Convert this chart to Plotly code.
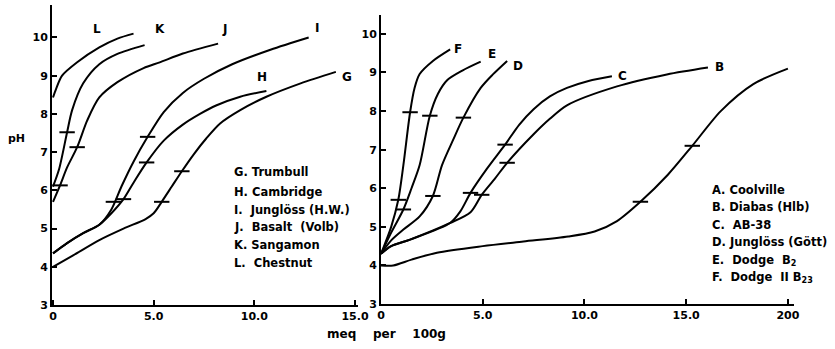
import plotly.graph_objects as go

# ---------- Left panel data (meq per 100g, pH) ----------
G_x = [0, 1.0, 2.3, 3.5, 4.6, 5.0, 5.4, 5.9, 6.4, 7.0, 7.6, 8.3, 9.3, 10.6, 12.3, 14.05]
G_y = [4.0, 4.3, 4.7, 5.0, 5.25, 5.4, 5.7, 6.1, 6.5, 6.95, 7.35, 7.75, 8.1, 8.45, 8.8, 9.1]
G_ticks_x = [5.4, 6.4]
G_ticks_y = [5.7, 6.5]

H_x = [0, 0.7, 1.5, 2.3, 2.9, 3.5, 4.0, 4.65, 5.5, 6.45, 7.3, 8.1, 9.3, 10.6]
H_y = [4.35, 4.62, 4.88, 5.1, 5.4, 5.77, 6.2, 6.73, 7.3, 7.72, 8.0, 8.22, 8.45, 8.6]
H_ticks_x = [3.5, 4.65]
H_ticks_y = [5.77, 6.73]

I_x = [0, 0.7, 1.5, 2.3, 2.9, 3.4, 4.0, 4.7, 5.5, 6.45, 7.5, 8.9, 10.8, 12.7]
I_y = [4.35, 4.62, 4.88, 5.1, 5.5, 6.1, 6.75, 7.4, 8.05, 8.55, 8.92, 9.3, 9.68, 10.0]
I_ticks_x = [3.0, 4.7]
I_ticks_y = [5.7, 7.4]

J_x = [0, 0.35, 0.7, 1.2, 1.7, 2.3, 3.2, 4.5, 5.3, 6.45, 8.2]
J_y = [5.7, 6.13, 6.6, 7.13, 7.83, 8.43, 8.83, 9.2, 9.35, 9.58, 9.84]
J_ticks_x = [0.35, 1.2]
J_ticks_y = [6.13, 7.13]

K_x = [0, 0.3, 0.7, 0.95, 1.5, 2.3, 3.2, 4.55]
K_y = [6.1, 6.55, 7.52, 8.1, 8.8, 9.3, 9.57, 9.8]
K_ticks_x = [0.7]
K_ticks_y = [7.52]

L_x = [0, 0.15, 0.45, 1.2, 2.3, 3.2, 4.0]
L_y = [8.43, 8.65, 9.0, 9.35, 9.74, 9.97, 10.1]

left_names = ["G", "H", "I", "J", "K", "L"]
left_label_x = [14.6, 10.4, 13.1, 8.5, 5.3, 2.2]
left_label_y = [8.96, 8.96, 10.26, 10.23, 10.23, 10.23]
left_legend = ["G. Trumbull", "H. Cambridge", "I.  Junglöss (H.W.)",
               "J.  Basalt  (Volb)", "K. Sangamon", "L.  Chestnut"]

# ---------- Right panel data ----------
A_x = [0, 0.6, 1.5, 2.75, 5.0, 7.0, 9.2, 10.5, 11.6, 12.75, 14.1, 15.3, 16.7, 18.3, 20.0]
A_y = [4.0, 4.0, 4.15, 4.33, 4.5, 4.62, 4.75, 4.88, 5.15, 5.65, 6.35, 7.1, 8.0, 8.7, 9.1]
A_ticks_x = [12.75, 15.3]
A_ticks_y = [5.65, 7.1]

B_x = [0, 0.5, 1.43, 3.4, 4.4, 4.95, 5.6, 6.2, 7.5, 8.3, 9.14, 11.6, 14.05, 16.07]
B_y = [4.3, 4.5, 4.67, 5.1, 5.38, 5.83, 6.25, 6.66, 7.4, 7.8, 8.15, 8.64, 8.95, 9.13]
B_ticks_x = [4.95, 6.2]
B_ticks_y = [5.83, 6.66]

C_x = [0, 0.5, 1.43, 3.4, 3.9, 4.4, 5.2, 6.1, 6.8, 7.5, 8.3, 9.14, 10.2, 11.35]
C_y = [4.3, 4.5, 4.67, 5.1, 5.4, 5.88, 6.5, 7.13, 7.65, 8.05, 8.38, 8.6, 8.78, 8.9]
C_ticks_x = [4.4, 6.1]
C_ticks_y = [5.88, 7.13]

D_x = [0, 0.5, 1.1, 1.9, 2.55, 3.0, 3.55, 4.05, 4.9, 5.5, 6.2]
D_y = [4.3, 4.65, 4.93, 5.27, 5.8, 6.6, 7.26, 7.83, 8.6, 8.95, 9.3]
D_ticks_x = [2.55, 4.05]
D_ticks_y = [5.8, 7.83]

E_x = [0, 0.5, 1.1, 1.5, 1.9, 2.4, 2.8, 3.25, 4.0, 4.9]
E_y = [4.3, 4.85, 5.45, 6.0, 6.6, 7.88, 8.45, 8.8, 9.05, 9.28]
E_ticks_x = [1.1, 2.4]
E_ticks_y = [5.45, 7.88]

F_x = [0, 0.5, 0.85, 1.1, 1.43, 1.65, 1.9, 2.55, 3.4]
F_y = [4.3, 5.0, 5.7, 6.6, 7.97, 8.6, 8.96, 9.3, 9.6]
F_ticks_x = [0.85, 1.43]
F_ticks_y = [5.7, 7.97]

right_names = ["A", "B", "C", "D", "E", "F"]
right_label_x = [20.5, 16.65, 11.85, 6.75, 5.45, 3.8]
right_label_y = [9.13, 9.13, 8.9, 9.16, 9.47, 9.6]
right_legend = ["A. Coolville", "B. Diabas (Hlb)", "C.  AB-38",
                "D. Junglöss (Gött)", "E.  Dodge  B<sub>2</sub>",
                "F.  Dodge  II B<sub>23</sub>"]

left_ticks_y = [3, 4, 5, 6, 7, 8, 9, 10]
left_ticks_x = [0, 5, 10, 15]
left_ticks_xtext = ["0", "5.0", "10.0", "15.0"]
right_ticks_x = [0, 5, 10, 15, 20]
right_ticks_xtext = ["0", "5.0", "10.0", "15.0", "200"]

FONT = "DejaVu Sans"
W, H = 835, 349

fig = go.Figure()

left_curves = [(G_x, G_y, G_ticks_x, G_ticks_y), (H_x, H_y, H_ticks_x, H_ticks_y),
               (I_x, I_y, I_ticks_x, I_ticks_y), (J_x, J_y, J_ticks_x, J_ticks_y),
               (K_x, K_y, K_ticks_x, K_ticks_y), (L_x, L_y, [], [])]
right_curves = [(A_x, A_y, A_ticks_x, A_ticks_y), (B_x, B_y, B_ticks_x, B_ticks_y),
                (C_x, C_y, C_ticks_x, C_ticks_y), (D_x, D_y, D_ticks_x, D_ticks_y),
                (E_x, E_y, E_ticks_x, E_ticks_y), (F_x, F_y, F_ticks_x, F_ticks_y)]

for curves, xa, ya in [(left_curves, "x", "y"), (right_curves, "x2", "y2")]:
    for cx, cy, tx, ty in curves:
        fig.add_trace(go.Scatter(x=cx, y=cy, mode="lines", xaxis=xa, yaxis=ya,
                                 line=dict(color="black", width=2, shape="spline", smoothing=0.8),
                                 showlegend=False, hoverinfo="skip", cliponaxis=False))
        if tx:
            fig.add_trace(go.Scatter(x=tx, y=ty, mode="markers", xaxis=xa, yaxis=ya,
                                     marker=dict(symbol="line-ew", size=11,
                                                 line=dict(color="black", width=2)),
                                     showlegend=False, hoverinfo="skip", cliponaxis=False))

tickfont = dict(family=FONT, size=11, color="black", weight="bold")
common_axis = dict(showline=True, linecolor="black", linewidth=2, showgrid=False,
                   zeroline=False, ticks="inside", ticklen=5, tickwidth=2,
                   tickcolor="black", tickfont=tickfont, fixedrange=True,
                   automargin=False)

fig.update_layout(
    width=W, height=H, autosize=False,
    margin=dict(l=0, r=0, t=0, b=0),
    paper_bgcolor="white", plot_bgcolor="white",
    xaxis=dict(domain=[52 / W, 358 / W], range=[-0.05, 15.15], anchor="y",
               tickmode="array", tickvals=left_ticks_x, ticktext=left_ticks_xtext, **common_axis),
    yaxis=dict(domain=[1 - 305 / H, 1 - 5 / H], range=[3, 10.85], anchor="x",
               tickmode="array", tickvals=left_ticks_y, **common_axis),
    xaxis2=dict(domain=[381 / W, 794 / W], range=[0, 20.3], anchor="y2",
                tickmode="array", tickvals=right_ticks_x, ticktext=right_ticks_xtext, **common_axis),
    yaxis2=dict(domain=[1 - 304 / H, 1 - 15 / H], range=[3, 10.49], anchor="x2",
                tickmode="array", tickvals=left_ticks_y, **common_axis),
)

ann = []
labfont = dict(family=FONT, size=12, color="black", weight="bold")
for name, lx, ly in zip(left_names, left_label_x, left_label_y):
    ann.append(dict(x=lx, y=ly, xref="x", yref="y", text=name, showarrow=False, font=labfont))
for name, lx, ly in zip(right_names, right_label_x, right_label_y):
    ann.append(dict(x=lx, y=ly, xref="x2", yref="y2", text=name, showarrow=False, font=labfont))

legfont = dict(family=FONT, size=11.5, color="black", weight="bold")
left_leg_py = [172, 192, 210, 227, 245, 263]
right_leg_py = [190, 207, 225, 242, 260, 277]
for txt, py in zip(left_legend, left_leg_py):
    ann.append(dict(x=232 / W, y=1 - py / H, xref="paper", yref="paper", text=txt,
                    showarrow=False, xanchor="left", yanchor="middle", font=legfont))
for txt, py in zip(right_legend, right_leg_py):
    ann.append(dict(x=710 / W, y=1 - py / H, xref="paper", yref="paper", text=txt,
                    showarrow=False, xanchor="left", yanchor="middle", font=legfont))

ann.append(dict(x=16 / W, y=1 - 138 / H, xref="paper", yref="paper", text="pH",
                showarrow=False, xanchor="center", yanchor="middle",
                font=dict(family=FONT, size=11, color="black", weight="bold")))
ann.append(dict(x=386 / W, y=1 - 334 / H, xref="paper", yref="paper",
                text="meq\u00a0\u00a0\u00a0 per\u00a0\u00a0\u00a0 100g",
                showarrow=False, xanchor="center", yanchor="middle",
                font=dict(family=FONT, size=12, color="black", weight="bold")))
fig.update_layout(annotations=ann)

fig.write_html("out.html", config={"displayModeBar": False},
               post_script="document.body.style.margin='0px';")
